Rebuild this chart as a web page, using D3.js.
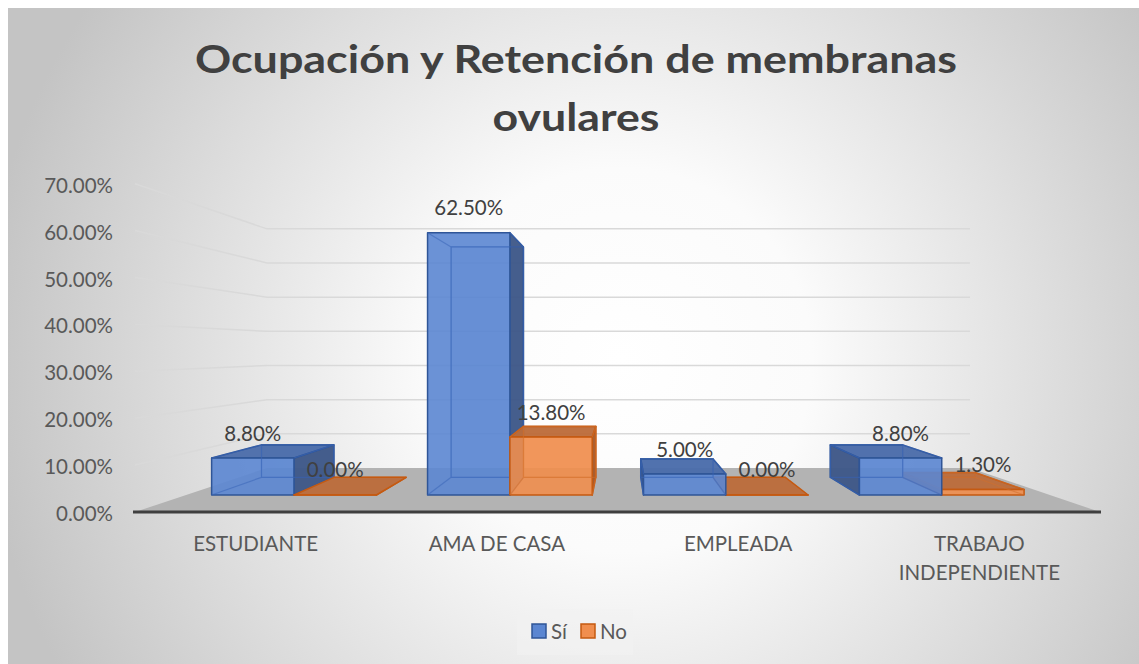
<!DOCTYPE html>
<html><head><meta charset="utf-8">
<script src="https://cdn.jsdelivr.net/npm/d3@7"></script>
<style>html,body{margin:0;padding:0;background:#fff;}svg{display:block;}</style>
</head><body>
<svg id="chart" width="1139" height="664"></svg>
<script>
const categories = ["ESTUDIANTE", "AMA DE CASA", "EMPLEADA", "TRABAJO INDEPENDIENTE"];
const categoryLines = [["ESTUDIANTE"], ["AMA DE CASA"], ["EMPLEADA"], ["TRABAJO", "INDEPENDIENTE"]];
const seriesNames = ["Sí", "No"];
const siValues = [0.088, 0.625, 0.05, 0.088];
const noValues = [0.0, 0.138, 0.0, 0.013];
const tickValues = [0, 0.1, 0.2, 0.3, 0.4, 0.5, 0.6, 0.7];
const titleLines = ["Ocupación y Retención de membranas", "ovulares"];

const svg = d3.select("#chart");
const W = 1139, H = 664;
const FONT = "Lato, 'Open Sans', sans-serif";

// background
const defs = svg.append("defs");
const rg = defs.append("radialGradient").attr("id", "bg")
  .attr("gradientUnits", "userSpaceOnUse")
  .attr("cx", 620).attr("cy", 360).attr("r", 640);
rg.append("stop").attr("offset", "0").attr("stop-color", "#ffffff");
rg.append("stop").attr("offset", "0.3").attr("stop-color", "#fbfbfb");
rg.append("stop").attr("offset", "1").attr("stop-color", "#c4c4c4");
svg.append("rect").attr("x", 8).attr("y", 8).attr("width", W - 8).attr("height", H - 8).attr("fill", "url(#bg)");

// perspective geometry
const vx = 621, vy = 350, floorY = 512;
const sFloorBack = 0.7285, sFront = 0.895, sBack = 0.786;
const x = d3.scaleBand().domain(categories).range([135, 1100]).padding(0);
const xs = d3.scaleBand().domain(seriesNames).range([0, x.bandwidth()]).paddingInner(0).paddingOuter(0.311);
const y = d3.scaleLinear().domain([0, 0.7]).range([0, 328.3]);
const P = (X, h, s) => [vx + (X - vx) * s, vy + (floorY - h - vy) * s];
const poly = pts => "M" + pts.map(p => p.join(",")).join("L") + "Z";

// gridlines
const grid = svg.append("g");
tickValues.forEach(t => {
  const h = y(t);
  if (t > 0) {
    const a = P(135, h, 1), b = P(135, h, sFloorBack), c = P(1100, h, sFloorBack);
    grid.append("path").attr("d", `M${a}L${b}L${c}`).attr("fill", "none")
      .attr("stroke", "#d9d9d9").attr("stroke-width", 1.5);
  }
});
// y tick labels
svg.append("g").selectAll("text").data(tickValues).join("text")
  .attr("x", 113).attr("y", d => floorY - y(d) + 9)
  .attr("text-anchor", "end").attr("font-family", FONT).attr("font-size", 20.5)
  .attr("fill", "#595959").text(d => d3.format(".2%")(d));

// floor
svg.append("path").attr("d", poly([P(135, 0, 1), P(135, 0, sFloorBack), P(1100, 0, sFloorBack), P(1100, 0, 1)]))
  .attr("fill", "#b3b3b3");
svg.append("line").attr("x1", 133).attr("x2", 1101).attr("y1", floorY).attr("y2", floorY)
  .attr("stroke", "#3f3f3f").attr("stroke-width", 3);

// bars
const styles = {
  "Sí": {front: "#5B86D1", top: "#4A6BAA", side: "#3D5687", stroke: "#2F5597", inner: "#3A66B8"},
  "No": {front: "#F08E4E", top: "#BC6C3A", side: "#A85A28", stroke: "#C55A11", inner: "#D0702E"}
};
const bars = [];
categories.forEach((c, i) => {
  [siValues[i], noValues[i]].forEach((v, j) => {
    const sn = seriesNames[j];
    const X0 = x(c) + xs(sn), X1 = X0 + xs.bandwidth();
    bars.push({c, i, sn, v, X0, X1, h: y(v)});
  });
});
bars.sort((a, b) => Math.abs((b.X0 + b.X1) / 2 - vx) - Math.abs((a.X0 + a.X1) / 2 - vx));
const gb = svg.append("g");
bars.forEach(b => {
  const st = styles[b.sn];
  const g = gb.append("g");
  const f = s => [P(b.X0, 0, s), P(b.X1, 0, s), P(b.X1, b.h, s), P(b.X0, b.h, s)];
  const front = f(sFront), back = f(sBack);
  // back face (seen through)
  g.append("path").attr("d", poly(back)).attr("fill", st.front).attr("fill-opacity", 0.25)
    .attr("stroke", st.stroke).attr("stroke-width", 1.2);
  if (b.X1 < vx) {
    g.append("path").attr("d", poly([P(b.X1, 0, sFront), P(b.X1, 0, sBack), P(b.X1, b.h, sBack), P(b.X1, b.h, sFront)]))
      .attr("fill", st.side).attr("fill-opacity", 0.95).attr("stroke", st.stroke).attr("stroke-width", 1.5).attr("stroke-linejoin", "round");
  }
  if (b.X0 > vx) {
    g.append("path").attr("d", poly([P(b.X0, 0, sFront), P(b.X0, 0, sBack), P(b.X0, b.h, sBack), P(b.X0, b.h, sFront)]))
      .attr("fill", st.side).attr("fill-opacity", 0.95).attr("stroke", st.stroke).attr("stroke-width", 1.5).attr("stroke-linejoin", "round");
  }
  if (b.h < floorY - vy) {
    g.append("path").attr("d", poly([P(b.X0, b.h, sFront), P(b.X1, b.h, sFront), P(b.X1, b.h, sBack), P(b.X0, b.h, sBack)]))
      .attr("fill", st.top).attr("fill-opacity", 0.95).attr("stroke", st.stroke).attr("stroke-width", 1.5).attr("stroke-linejoin", "round");
  }
  g.append("path").attr("d", poly(front)).attr("fill", st.front).attr("fill-opacity", 0.9)
    .attr("stroke", st.stroke).attr("stroke-width", 1.5).attr("stroke-linejoin", "round");
  // hidden edges visible through transparency
  if (b.h > 2) {
    let d = poly(back);
    for (let k = 0; k < 4; k++) d += `M${front[k]}L${back[k]}`;
    g.append("path").attr("d", d)
      .attr("fill", "none").attr("stroke", st.inner).attr("stroke-opacity", 0.55).attr("stroke-width", 1.2);
  }
});

// data labels
svg.append("g").selectAll("text").data(bars).join("text")
  .attr("x", d => P((d.X0 + d.X1) / 2, d.h, sFront)[0])
  .attr("y", d => P((d.X0 + d.X1) / 2, d.h, sFront)[1] - 17.5)
  .attr("text-anchor", "middle").attr("font-family", FONT).attr("font-size", 20.5)
  .attr("fill", "#404040").text(d => d3.format(".2%")(d.v));

// category labels
const cg = svg.append("g");
categories.forEach((c, i) => {
  const cx = x(c) + x.bandwidth() / 2;
  categoryLines[i].forEach((ln, k) => {
    cg.append("text").attr("x", cx).attr("y", 551 + k * 29).attr("text-anchor", "middle")
      .attr("font-family", FONT).attr("font-size", 20.5).attr("fill", "#595959").text(ln);
  });
});

// title
svg.append("text").attr("x", 576).attr("y", 73).attr("text-anchor", "middle")
  .attr("font-family", FONT).attr("font-weight", "bold").attr("font-size", 39)
  .attr("fill", "#404040").attr("textLength", 762).attr("lengthAdjust", "spacingAndGlyphs").text(titleLines[0]);
svg.append("text").attr("x", 576).attr("y", 131).attr("text-anchor", "middle")
  .attr("font-family", FONT).attr("font-weight", "bold").attr("font-size", 39)
  .attr("fill", "#404040").attr("textLength", 167).attr("lengthAdjust", "spacingAndGlyphs").text(titleLines[1]);

// legend
const lg = svg.append("g");
lg.append("rect").attr("x", 517).attr("y", 609).attr("width", 116).attr("height", 46)
  .attr("fill", "#f2f2f2").attr("fill-opacity", 0.6);
const legX = [532, 581];
seriesNames.forEach((s, i) => {
  lg.append("rect").attr("x", legX[i]).attr("y", 624).attr("width", 14).attr("height", 14)
    .attr("fill", styles[s].front).attr("stroke", styles[s].stroke).attr("stroke-width", 1.5);
  lg.append("text").attr("x", legX[i] + 19).attr("y", 638.5).attr("font-family", FONT)
    .attr("font-size", 20.5).attr("fill", "#595959").text(s);
});
</script>
</body></html>
